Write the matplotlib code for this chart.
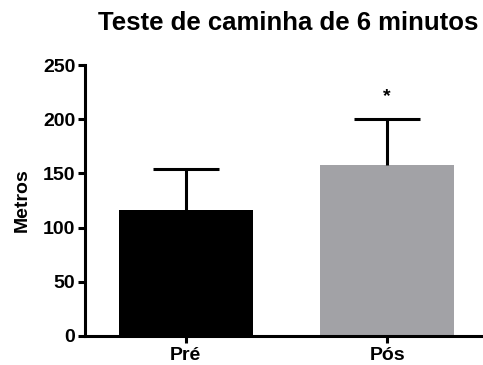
import matplotlib
matplotlib.use("Agg")
import matplotlib.pyplot as plt

plt.rcParams['font.family'] = ['Liberation Sans', 'DejaVu Sans']

# Six-minute walk test, distance in metres (mean with upper SD)
groups = ["Pré", "Pós"]
means = [116, 158]
sds = [38, 42]
colors = ["#000000", "#a2a2a6"]
significance = ["", "*"]
yticks = [0, 50, 100, 150, 200, 250]

fig = plt.figure(figsize=(4.83, 3.65), dpi=100)
ax = fig.add_axes([85 / 483, 29 / 365, 403 / 483, 271 / 365])

x = list(range(len(groups)))
lw = 2.2
ax.bar(x, means, width=0.665, color=colors, zorder=2)
_, caps, _ = ax.errorbar(x, means, yerr=[[0] * len(sds), sds], fmt="none",
                         ecolor="black", elinewidth=lw, capsize=24,
                         capthick=lw, zorder=3)
# only the upper cap is shown
caps[0].set_visible(False)

for xi, m, s, sig in zip(x, means, sds, significance):
    if sig:
        ax.annotate(sig, (xi, m + s), xytext=(0, 10), textcoords="offset points",
                    ha="center", va="bottom", fontsize=14, fontweight="bold")

ax.set_xlim(-0.5, 1.5)
ax.set_ylim(0, 250)
ax.set_yticks(yticks)
ax.set_xticks(x)
ax.set_xticklabels(groups, fontsize=14, fontweight="bold")
ax.set_yticklabels([str(t) for t in yticks], fontsize=14, fontweight="bold")
ax.tick_params(axis="both", direction="out", length=5, width=lw, pad=2)
ax.tick_params(axis="x", pad=3)
ax.set_ylabel("Metros", fontsize=14, fontweight="bold", labelpad=9)

for side in ("top", "right"):
    ax.spines[side].set_visible(False)
for side in ("left", "bottom"):
    ax.spines[side].set_linewidth(lw)

fig.suptitle("Teste de caminha de 6 minutos", x=288 / 483, y=1 - 11 / 365,
             va="top", fontsize=18.5, fontweight="bold")

fig.savefig("out.png", dpi=100, facecolor="white")
